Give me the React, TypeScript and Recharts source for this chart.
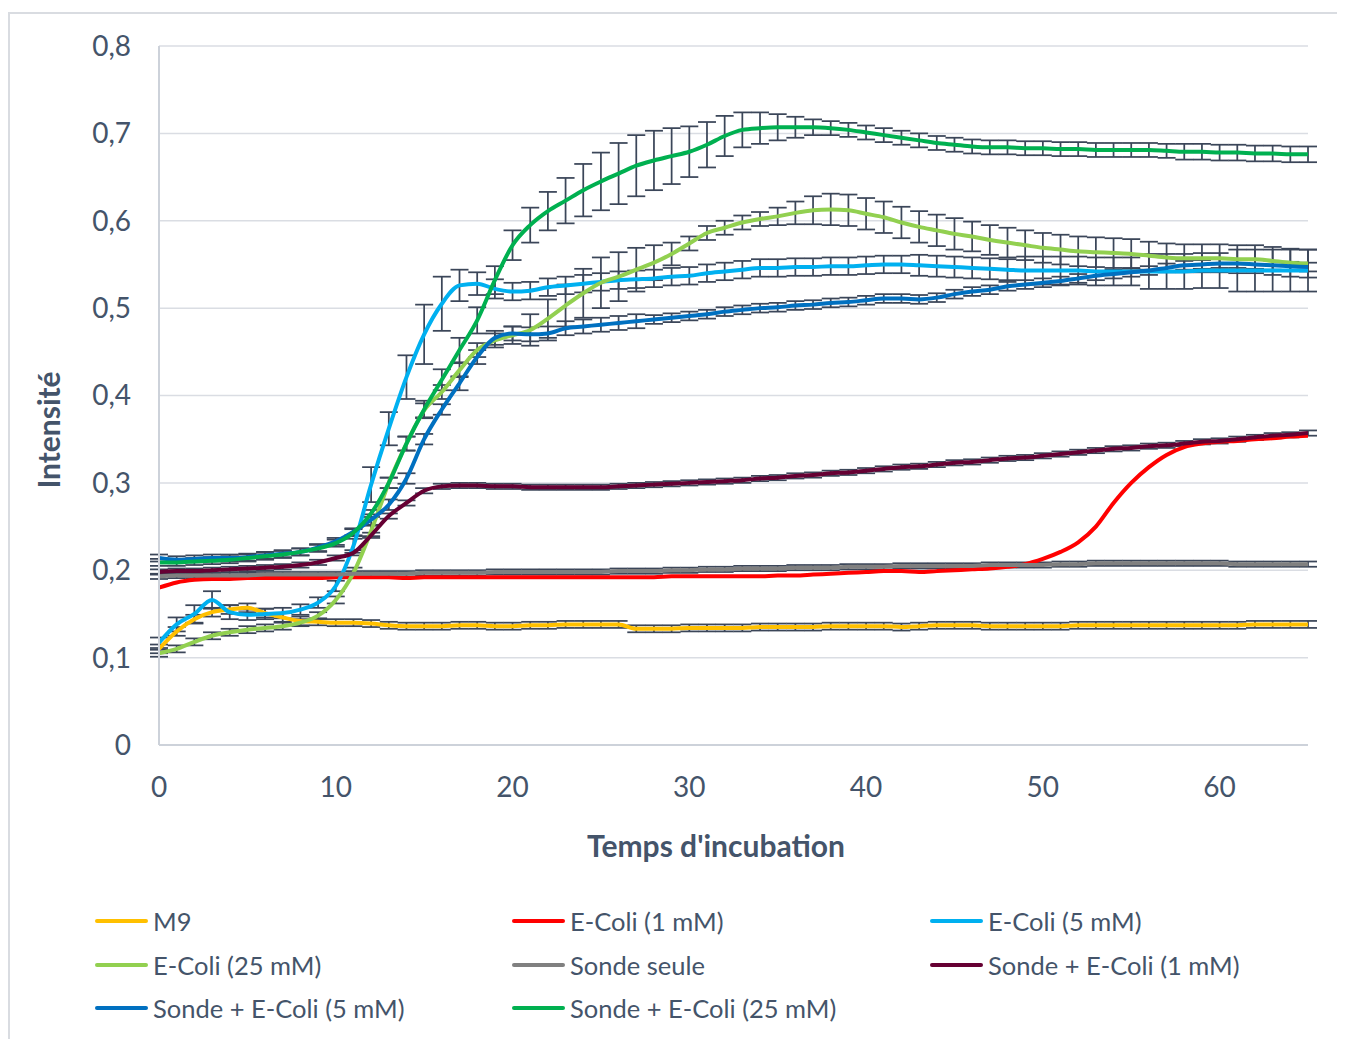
import React from 'react';
import { LineChart, Line, XAxis, YAxis, CartesianGrid, ErrorBar } from 'recharts';

const time = [0,1,2,3,4,5,6,7,8,9,10,11,12,13,14,15,16,17,18,19,20,21,22,23,24,25,26,27,28,29,30,31,32,33,34,35,36,37,38,39,40,41,42,43,44,45,46,47,48,49,50,51,52,53,54,55,56,57,58,59,60,61,62,63,64,65];

const m9 = [0.110,0.130,0.144,0.152,0.155,0.157,0.151,0.146,0.142,0.141,0.140,0.140,0.139,0.137,0.136,0.136,0.136,0.137,0.137,0.136,0.136,0.137,0.137,0.138,0.138,0.138,0.138,0.133,0.133,0.133,0.134,0.134,0.134,0.134,0.135,0.135,0.135,0.135,0.136,0.136,0.136,0.136,0.135,0.136,0.137,0.137,0.137,0.136,0.136,0.136,0.136,0.136,0.137,0.137,0.137,0.137,0.137,0.137,0.137,0.137,0.137,0.137,0.138,0.138,0.138,0.138];
const m9Err = [0.005,0.005,0.005,0.005,0.005,0.005,0.005,0.005,0.005,0.004,0.004,0.004,0.004,0.004,0.004,0.004,0.004,0.004,0.004,0.004,0.004,0.004,0.004,0.004,0.004,0.004,0.004,0.004,0.004,0.004,0.004,0.004,0.004,0.004,0.004,0.004,0.004,0.004,0.004,0.004,0.004,0.004,0.004,0.004,0.004,0.004,0.004,0.004,0.004,0.004,0.004,0.004,0.004,0.004,0.004,0.004,0.004,0.004,0.004,0.004,0.004,0.004,0.004,0.004,0.004,0.004];

const eColi1 = [0.180,0.186,0.189,0.190,0.190,0.191,0.191,0.191,0.191,0.191,0.192,0.192,0.192,0.192,0.191,0.192,0.192,0.192,0.192,0.192,0.192,0.192,0.192,0.192,0.192,0.192,0.192,0.192,0.192,0.193,0.193,0.193,0.193,0.193,0.193,0.194,0.194,0.195,0.196,0.197,0.198,0.199,0.199,0.198,0.199,0.200,0.201,0.202,0.204,0.207,0.213,0.221,0.232,0.250,0.277,0.300,0.318,0.332,0.341,0.345,0.347,0.348,0.350,0.351,0.353,0.354];

const eColi5 = [0.117,0.138,0.150,0.166,0.152,0.149,0.150,0.151,0.155,0.163,0.182,0.228,0.298,0.362,0.421,0.470,0.505,0.526,0.528,0.522,0.519,0.520,0.524,0.526,0.528,0.530,0.532,0.533,0.534,0.536,0.537,0.540,0.542,0.544,0.546,0.546,0.547,0.547,0.548,0.548,0.549,0.550,0.550,0.549,0.548,0.547,0.546,0.545,0.544,0.543,0.543,0.543,0.543,0.542,0.542,0.542,0.542,0.542,0.542,0.543,0.543,0.543,0.543,0.543,0.543,0.543];
const eColi5Err = [0.006,0.008,0.010,0.010,0.008,0.006,0.006,0.006,0.006,0.006,0.006,0.008,0.020,0.019,0.025,0.034,0.031,0.018,0.013,0.011,0.010,0.010,0.010,0.010,0.010,0.010,0.010,0.010,0.010,0.010,0.010,0.010,0.010,0.010,0.010,0.010,0.010,0.010,0.010,0.010,0.010,0.010,0.010,0.012,0.012,0.012,0.012,0.012,0.012,0.016,0.016,0.016,0.016,0.016,0.016,0.016,0.020,0.020,0.020,0.020,0.020,0.024,0.024,0.024,0.024,0.024];

const eColi25 = [0.105,0.110,0.118,0.125,0.129,0.132,0.134,0.136,0.140,0.148,0.166,0.197,0.245,0.300,0.345,0.383,0.404,0.429,0.452,0.463,0.469,0.475,0.488,0.503,0.517,0.529,0.536,0.544,0.552,0.562,0.574,0.586,0.592,0.598,0.602,0.605,0.609,0.612,0.613,0.612,0.608,0.604,0.598,0.593,0.589,0.585,0.582,0.578,0.575,0.572,0.569,0.567,0.565,0.564,0.563,0.562,0.560,0.558,0.557,0.557,0.557,0.556,0.556,0.554,0.552,0.551];
const eColi25Err = [0.004,0.004,0.004,0.004,0.004,0.004,0.004,0.004,0.004,0.004,0.004,0.006,0.006,0.006,0.008,0.008,0.008,0.008,0.008,0.008,0.010,0.018,0.022,0.024,0.028,0.029,0.028,0.025,0.020,0.013,0.008,0.008,0.008,0.008,0.008,0.010,0.013,0.016,0.018,0.018,0.018,0.018,0.018,0.018,0.018,0.018,0.017,0.017,0.017,0.017,0.017,0.017,0.017,0.017,0.017,0.017,0.016,0.016,0.016,0.016,0.016,0.016,0.016,0.016,0.016,0.016];

const sonde = [0.193,0.194,0.194,0.194,0.194,0.194,0.195,0.195,0.195,0.195,0.195,0.196,0.196,0.196,0.196,0.197,0.197,0.197,0.197,0.198,0.198,0.198,0.198,0.198,0.198,0.198,0.199,0.199,0.199,0.200,0.200,0.201,0.201,0.202,0.202,0.202,0.203,0.203,0.203,0.204,0.204,0.204,0.205,0.205,0.205,0.205,0.205,0.206,0.206,0.206,0.206,0.207,0.207,0.208,0.208,0.208,0.208,0.208,0.208,0.208,0.208,0.207,0.207,0.207,0.207,0.207];
const sondeErr = [0.003,0.003,0.003,0.003,0.003,0.003,0.003,0.003,0.003,0.003,0.003,0.003,0.003,0.003,0.003,0.003,0.003,0.003,0.003,0.003,0.003,0.003,0.003,0.003,0.003,0.003,0.003,0.003,0.003,0.003,0.003,0.003,0.003,0.003,0.003,0.003,0.003,0.003,0.003,0.003,0.003,0.003,0.003,0.003,0.003,0.003,0.003,0.003,0.003,0.003,0.003,0.003,0.003,0.003,0.003,0.003,0.003,0.003,0.003,0.003,0.003,0.003,0.003,0.003,0.003,0.003];

const sonde1 = [0.198,0.199,0.199,0.200,0.201,0.202,0.203,0.204,0.206,0.209,0.214,0.220,0.240,0.262,0.277,0.291,0.296,0.297,0.297,0.296,0.296,0.295,0.295,0.295,0.295,0.295,0.296,0.297,0.298,0.299,0.300,0.301,0.302,0.303,0.305,0.306,0.308,0.309,0.311,0.312,0.314,0.316,0.318,0.319,0.321,0.323,0.324,0.326,0.328,0.329,0.331,0.333,0.335,0.337,0.339,0.340,0.342,0.343,0.345,0.347,0.348,0.350,0.352,0.354,0.355,0.357];
const sonde1Err = [0.003,0.003,0.003,0.003,0.003,0.003,0.003,0.003,0.003,0.003,0.003,0.003,0.003,0.003,0.003,0.003,0.003,0.003,0.003,0.003,0.003,0.003,0.003,0.003,0.003,0.003,0.003,0.003,0.003,0.003,0.003,0.003,0.003,0.003,0.003,0.003,0.003,0.003,0.003,0.003,0.003,0.003,0.003,0.003,0.003,0.003,0.003,0.003,0.003,0.003,0.003,0.003,0.003,0.003,0.003,0.003,0.003,0.003,0.003,0.003,0.003,0.003,0.003,0.003,0.003,0.003];

const sonde5 = [0.214,0.212,0.213,0.214,0.214,0.215,0.217,0.219,0.221,0.226,0.233,0.244,0.258,0.275,0.305,0.350,0.384,0.414,0.444,0.466,0.471,0.470,0.471,0.477,0.479,0.481,0.483,0.485,0.487,0.489,0.491,0.493,0.496,0.498,0.500,0.501,0.503,0.504,0.506,0.507,0.509,0.511,0.511,0.510,0.512,0.516,0.519,0.521,0.525,0.527,0.529,0.531,0.534,0.537,0.539,0.541,0.543,0.546,0.549,0.550,0.551,0.551,0.550,0.549,0.548,0.547];
const sonde5Err = [0.004,0.004,0.004,0.004,0.004,0.004,0.004,0.004,0.004,0.004,0.004,0.004,0.006,0.006,0.006,0.006,0.006,0.008,0.008,0.008,0.008,0.008,0.008,0.008,0.008,0.008,0.008,0.008,0.005,0.005,0.005,0.005,0.005,0.005,0.005,0.005,0.005,0.005,0.005,0.005,0.005,0.005,0.005,0.005,0.005,0.005,0.005,0.005,0.005,0.005,0.005,0.005,0.005,0.005,0.005,0.005,0.005,0.005,0.005,0.005,0.005,0.005,0.005,0.005,0.005,0.005];

const sonde25 = [0.209,0.209,0.210,0.211,0.212,0.214,0.216,0.218,0.221,0.225,0.231,0.243,0.265,0.300,0.345,0.384,0.418,0.452,0.486,0.532,0.572,0.595,0.611,0.623,0.635,0.645,0.654,0.663,0.669,0.674,0.679,0.687,0.697,0.704,0.706,0.707,0.707,0.707,0.706,0.704,0.701,0.698,0.695,0.692,0.689,0.687,0.685,0.684,0.684,0.683,0.683,0.682,0.682,0.681,0.681,0.681,0.681,0.680,0.679,0.679,0.678,0.678,0.677,0.677,0.676,0.676];
const sonde25Err = [0.004,0.004,0.004,0.004,0.004,0.004,0.004,0.004,0.004,0.004,0.004,0.004,0.004,0.006,0.008,0.010,0.012,0.014,0.015,0.016,0.017,0.020,0.022,0.026,0.030,0.033,0.035,0.035,0.034,0.032,0.029,0.026,0.023,0.020,0.018,0.015,0.012,0.009,0.008,0.008,0.008,0.008,0.008,0.008,0.008,0.008,0.008,0.008,0.008,0.008,0.008,0.008,0.008,0.008,0.008,0.008,0.008,0.008,0.009,0.009,0.009,0.009,0.009,0.009,0.009,0.009];

const xTicks = [0, 10, 20, 30, 40, 50, 60];
const yTicks = [0, 0.1, 0.2, 0.3, 0.4, 0.5, 0.6, 0.7, 0.8];

const series = [
  { key: 'm9', name: 'M9', color: '#FFC000', values: m9, err: m9Err },
  { key: 'e1', name: 'E-Coli (1 mM)', color: '#FF0000', values: eColi1, err: null },
  { key: 'e5', name: 'E-Coli (5 mM)', color: '#00B0F0', values: eColi5, err: eColi5Err },
  { key: 'e25', name: 'E-Coli (25 mM)', color: '#92D050', values: eColi25, err: eColi25Err },
  { key: 's0', name: 'Sonde seule', color: '#808080', values: sonde, err: sondeErr },
  { key: 's1', name: 'Sonde + E-Coli (1 mM)', color: '#660033', values: sonde1, err: sonde1Err },
  { key: 's5', name: 'Sonde + E-Coli (5 mM)', color: '#0070C0', values: sonde5, err: sonde5Err },
  { key: 's25', name: 'Sonde + E-Coli (25 mM)', color: '#00B050', values: sonde25, err: sonde25Err },
];

const rows = time.map((t, i) => {
  const r: any = { t };
  series.forEach((s) => {
    r[s.key] = s.values[i];
    if (s.err) r[s.key + 'E'] = s.err[i];
  });
  return r;
});

const TEXT = '#44546A';
const FONT = 'Lato, "Open Sans", sans-serif';
const BAR = '#3B4659';

const fmtY = (v: number) => (v === 0 ? '0' : v.toFixed(1).replace('.', ','));

export default function App() {
  return (
    <div style={{ position: 'relative', width: 1337, height: 1031, fontFamily: FONT }}>
      <style>{'body{overflow:hidden}'}</style>
      <div
        style={{
          position: 'absolute',
          left: 0,
          top: 4,
          width: 1336,
          height: 1040,
          boxSizing: 'border-box',
          borderTop: '2px solid #D9DCE1',
          borderLeft: '2px solid #D9DCE1',
          borderRight: '2px solid #D9DCE1',
        }}
      />
      <div style={{ position: 'absolute', left: 0, top: 0 }}>
        <LineChart
          width={1337}
          height={1031}
          data={rows}
          margin={{ top: 38, right: 37, left: 0, bottom: 174 }}
        >
          <CartesianGrid horizontal vertical={false} stroke="#DADDE3" strokeWidth={1.5} />
          <XAxis
            dataKey="t"
            type="number"
            domain={[0, 65]}
            ticks={xTicks}
            height={120}
            tickLine={false}
            axisLine={{ stroke: '#CDD2DA', strokeWidth: 2 }}
            tickSize={0}
            tickMargin={32}
            tick={{ fill: TEXT, fontSize: 28, fontFamily: FONT }}
            allowDataOverflow
          />
          <YAxis
            type="number"
            domain={[0, 0.8]}
            ticks={yTicks}
            width={151}
            tickLine={false}
            axisLine={{ stroke: '#CDD2DA', strokeWidth: 2 }}
            tickSize={0}
            tickMargin={28}
            tickFormatter={fmtY}
            tick={{ fill: TEXT, fontSize: 28, fontFamily: FONT }}
          />
          {series
            .filter((s) => s.err)
            .map((s) => (
              <Line
                key={'bar-' + s.key}
                dataKey={s.key}
                stroke="none"
                dot={false}
                activeDot={false}
                legendType="none"
                isAnimationActive={false}
              >
                <ErrorBar
                  dataKey={s.key + 'E'}
                  direction="y"
                  width={9}
                  stroke={BAR}
                  strokeWidth={1.75}
                  isAnimationActive={false}
                />
              </Line>
            ))}
          {series.map((s) => (
            <Line
              key={s.key}
              dataKey={s.key}
              name={s.name}
              type="monotone"
              stroke={s.color}
              strokeWidth={4}
              dot={false}
              activeDot={false}
              isAnimationActive={false}
            />
          ))}
        </LineChart>
      </div>
      <div
        style={{
          position: 'absolute',
          left: 40,
          top: 422,
          transform: 'translate(-50%, -50%) rotate(-90deg)',
          whiteSpace: 'nowrap',
          fontSize: 30,
          fontWeight: 700,
          color: TEXT,
        }}
      >
        Intensité
      </div>
      <div
        style={{
          position: 'absolute',
          left: 708,
          top: 837,
          transform: 'translate(-50%, -50%)',
          whiteSpace: 'nowrap',
          fontSize: 30,
          fontWeight: 700,
          color: TEXT,
        }}
      >
        Temps d'incubation
      </div>
      {series.map((s, i) => {
        const col = i % 3;
        const row = Math.floor(i / 3);
        const lefts = [87, 504, 922];
        const tops = [913, 957, 1000];
        return (
          <div
            key={'lg-' + s.key}
            style={{
              position: 'absolute',
              left: lefts[col],
              top: tops[row],
              transform: 'translateY(-50%)',
              display: 'flex',
              alignItems: 'center',
              whiteSpace: 'nowrap',
              fontSize: 25.5,
              color: TEXT,
            }}
          >
            <span
              style={{
                display: 'inline-block',
                width: 53,
                height: 4,
                borderRadius: 2,
                background: s.color,
                marginRight: 5,
              }}
            />
            <span>{s.name}</span>
          </div>
        );
      })}
    </div>
  );
}
